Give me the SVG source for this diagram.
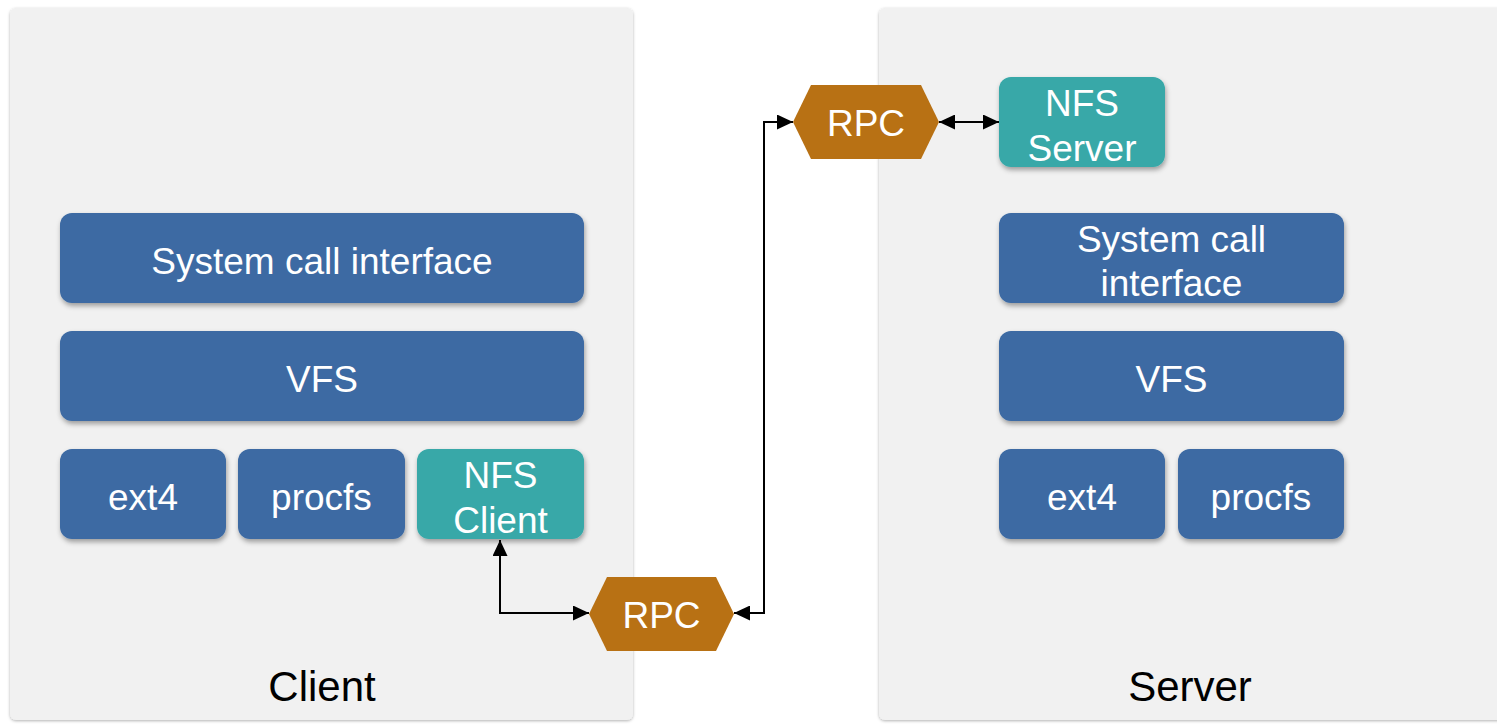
<svg xmlns="http://www.w3.org/2000/svg" width="1497" height="724" viewBox="0 0 1497 724">
<defs>
<style>
.panel{fill:#f1f1f1}
.blue{fill:#3c6aa3}
.teal{fill:#37a8a8}
.rpc{fill:#b87114}
.lbl{font-family:"Liberation Sans",Arial,Helvetica,sans-serif;font-size:37px;fill:#ffffff;text-anchor:middle}
.title{font-family:"Liberation Sans",Arial,Helvetica,sans-serif;font-size:42px;fill:#000000;text-anchor:middle}
.conn{fill:none;stroke:#000000;stroke-width:2}
</style>
<filter id="sh" x="-10%" y="-10%" width="125%" height="135%">
<feDropShadow dx="1" dy="3" stdDeviation="2.5" flood-color="#000" flood-opacity="0.35"/>
</filter>
<filter id="psh" x="-5%" y="-5%" width="110%" height="110%">
<feDropShadow dx="0" dy="1" stdDeviation="1.5" flood-color="#000" flood-opacity="0.3"/>
</filter>
<marker id="arr" markerUnits="userSpaceOnUse" markerWidth="17" markerHeight="15" refX="16" refY="7.5" orient="auto-start-reverse">
<path d="M0,0 L16,7.5 L0,15 z" fill="#000000"/>
</marker>
</defs>
<rect width="1497" height="724" fill="#ffffff"/>
<g id="client-panel">
<rect class="panel" x="10" y="8" width="623" height="712" rx="6" filter="url(#psh)"/>
<text class="title" x="322" y="701">Client</text>
</g>
<g id="server-panel">
<rect class="panel" x="879" y="8" width="640" height="712" rx="6" filter="url(#psh)"/>
<text class="title" x="1190" y="701">Server</text>
</g>
<g id="c-syscall">
<rect class="blue" x="60" y="213" width="524" height="90" rx="12" filter="url(#sh)"/>
<text class="lbl" x="322" y="274">System call interface</text>
</g>
<g id="c-vfs">
<rect class="blue" x="60" y="331" width="524" height="90" rx="12" filter="url(#sh)"/>
<text class="lbl" x="322" y="392">VFS</text>
</g>
<g id="c-ext4">
<rect class="blue" x="60" y="449" width="166" height="90" rx="12" filter="url(#sh)"/>
<text class="lbl" x="143" y="510">ext4</text>
</g>
<g id="c-procfs">
<rect class="blue" x="238" y="449" width="167" height="90" rx="12" filter="url(#sh)"/>
<text class="lbl" x="321.5" y="510">procfs</text>
</g>
<g id="nfs-client">
<rect class="teal" x="417" y="449" width="167" height="90" rx="12" filter="url(#sh)"/>
<text class="lbl" x="500.5" y="488">NFS</text>
<text class="lbl" x="500.5" y="533">Client</text>
</g>
<g id="rpc-client">
<polygon class="rpc" points="589,614 607,577 716,577 734,614 716,651 607,651"/>
<text class="lbl" x="661.5" y="628">RPC</text>
</g>
<g id="rpc-server">
<polygon class="rpc" points="793,122 811,85 921,85 939,122 921,159 811,159"/>
<text class="lbl" x="866" y="136">RPC</text>
</g>
<g id="nfs-server">
<rect class="teal" x="999" y="77" width="166" height="90" rx="12" filter="url(#sh)"/>
<text class="lbl" x="1082" y="116">NFS</text>
<text class="lbl" x="1082" y="161">Server</text>
</g>
<g id="s-syscall">
<rect class="blue" x="999" y="213" width="345" height="90" rx="12" filter="url(#sh)"/>
<text class="lbl" x="1171.5" y="252">System call</text>
<text class="lbl" x="1171.5" y="296">interface</text>
</g>
<g id="s-vfs">
<rect class="blue" x="999" y="331" width="345" height="90" rx="12" filter="url(#sh)"/>
<text class="lbl" x="1171.5" y="392">VFS</text>
</g>
<g id="s-ext4">
<rect class="blue" x="999" y="449" width="166" height="90" rx="12" filter="url(#sh)"/>
<text class="lbl" x="1082" y="510">ext4</text>
</g>
<g id="s-procfs">
<rect class="blue" x="1178" y="449" width="166" height="90" rx="12" filter="url(#sh)"/>
<text class="lbl" x="1261" y="510">procfs</text>
</g>
<g id="connectors">
<path class="conn" d="M500,540 V613 H589" marker-start="url(#arr)" marker-end="url(#arr)"/>
<path class="conn" d="M734,613 H764 V122 H793" marker-start="url(#arr)" marker-end="url(#arr)"/>
<path class="conn" d="M939,122 H999" marker-start="url(#arr)" marker-end="url(#arr)"/>
</g>
</svg>
